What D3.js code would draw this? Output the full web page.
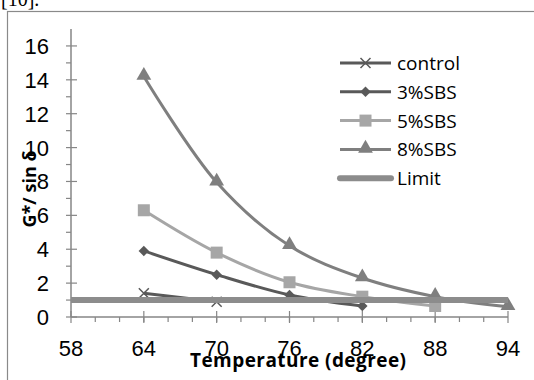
<!DOCTYPE html>
<html>
<head>
<meta charset="utf-8">
<script src="https://cdn.jsdelivr.net/npm/d3@7"></script>
<style>
  body { margin: 0; background: #fff; }
  svg { display: block; }
</style>
</head>
<body>
<div id="chart"></div>
<script>
// Data
const temps = [64, 70, 76, 82, 88, 94];
const control = [1.4, 0.9];
const sbs3 = [3.9, 2.5, 1.3, 0.65];
const sbs5 = [6.3, 3.8, 2.05, 1.2, 0.65];
const sbs8 = [14.2, 7.95, 4.2, 2.3, 1.2, 0.6];
const limitX = [58, 94];
const limitY = [1, 1];
const xTicks = [58, 64, 70, 76, 82, 88, 94];
const yTicks = [0, 2, 4, 6, 8, 10, 12, 14, 16];

const W = 534, H = 380;
const svg = d3.select("#chart").append("svg")
    .attr("width", W).attr("height", H);

// cropped caption line from the page above
svg.append("text")
    .attr("x", 1).attr("y", 6)
    .attr("font-family", "Liberation Serif")
    .attr("font-size", 20)
    .text("[10].");

// chart frame
svg.append("rect")
    .attr("x", 7.5).attr("y", 11.5)
    .attr("width", 600).attr("height", 400)
    .attr("fill", "none")
    .attr("stroke", "#8a8a8a")
    .attr("stroke-width", 1.2);

const x = d3.scaleLinear().domain([58, 94]).range([71, 508]);
const y = d3.scaleLinear().domain([0, 17]).range([317, 29]);

const axisCol = "#868686";

// y axis
const gy = svg.append("g");
gy.append("line")
    .attr("x1", x(58)).attr("x2", x(58))
    .attr("y1", y(0)).attr("y2", y(17))
    .attr("stroke", axisCol).attr("stroke-width", 1.5);
gy.selectAll(".minor").data(d3.range(1, 17, 2)).enter().append("line")
    .attr("x1", x(58) - 5).attr("x2", x(58))
    .attr("y1", d => y(d)).attr("y2", d => y(d))
    .attr("stroke", axisCol).attr("stroke-width", 1.2);
gy.selectAll(".major").data(yTicks).enter().append("line")
    .attr("x1", x(58) - 5).attr("x2", x(58) + 6)
    .attr("y1", d => y(d)).attr("y2", d => y(d))
    .attr("stroke", axisCol).attr("stroke-width", 1.2);
gy.selectAll("text").data(yTicks).enter().append("text")
    .attr("x", 49).attr("y", d => y(d) + 8)
    .attr("text-anchor", "end")
    .attr("font-family", "Liberation Sans, Arial")
    .attr("font-size", 22)
    .text(d => d);

// x axis
const gx = svg.append("g");
gx.append("line")
    .attr("x1", x(58)).attr("x2", x(94))
    .attr("y1", y(0)).attr("y2", y(0))
    .attr("stroke", axisCol).attr("stroke-width", 1.5);
gx.selectAll(".minor").data(d3.range(60, 94, 2)).enter().append("line")
    .attr("x1", d => x(d)).attr("x2", d => x(d))
    .attr("y1", y(0)).attr("y2", y(0) + 5)
    .attr("stroke", axisCol).attr("stroke-width", 1.2);
gx.selectAll(".major").data(xTicks).enter().append("line")
    .attr("x1", d => x(d)).attr("x2", d => x(d))
    .attr("y1", y(0) - 6).attr("y2", y(0) + 6)
    .attr("stroke", axisCol).attr("stroke-width", 1.2);
gx.selectAll("text").data(xTicks).enter().append("text")
    .attr("x", d => x(d)).attr("y", 356)
    .attr("text-anchor", "middle")
    .attr("font-family", "Liberation Sans, Arial")
    .attr("font-size", 22)
    .text(d => d);

// axis titles
svg.append("text")
    .attr("x", 298).attr("y", 367)
    .attr("text-anchor", "middle")
    .attr("font-family", "Open Sans, Lato")
    .attr("font-weight", "bold")
    .attr("font-size", 19)
    .attr("textLength", 216)
    .text("Temperature (degree)");
svg.append("text")
    .attr("transform", "translate(36,189) rotate(-90)")
    .attr("text-anchor", "middle")
    .attr("font-family", "Open Sans, Lato")
    .attr("font-weight", "bold")
    .attr("font-size", 18)
    .text("G*/ sin δ");

const series = [
  {name: "control", values: control, color: "#595959", marker: "x"},
  {name: "3%SBS", values: sbs3, color: "#595959", marker: "diamond"},
  {name: "5%SBS", values: sbs5, color: "#a6a6a6", marker: "square"},
  {name: "8%SBS", values: sbs8, color: "#7f7f7f", marker: "triangle"}
];

const line = d3.line()
    .x(d => x(d[0]))
    .y(d => y(d[1]))
    .curve(d3.curveCatmullRom.alpha(0.5));

function drawMarker(g, type, cx, cy, color) {
  if (type === "x") {
    g.append("path")
      .attr("d", `M${cx-5},${cy-5}L${cx+5},${cy+5}M${cx-5},${cy+5}L${cx+5},${cy-5}`)
      .attr("stroke", color).attr("stroke-width", 1.5).attr("fill", "none");
  } else if (type === "diamond") {
    g.append("path")
      .attr("d", d3.symbol().type(d3.symbolDiamond2).size(70)())
      .attr("transform", `translate(${cx},${cy})`)
      .attr("fill", color);
  } else if (type === "square") {
    g.append("rect")
      .attr("x", cx - 6).attr("y", cy - 6)
      .attr("width", 12).attr("height", 12)
      .attr("fill", color);
  } else if (type === "triangle") {
    g.append("path")
      .attr("d", d3.symbol().type(d3.symbolTriangle).size(95)())
      .attr("transform", `translate(${cx},${cy - 1})`)
      .attr("fill", color);
  }
}

series.forEach(s => {
  const pts = s.values.map((v, i) => [temps[i], v]);
  const g = svg.append("g");
  g.append("path")
      .datum(pts)
      .attr("fill", "none")
      .attr("stroke", s.color)
      .attr("stroke-width", 3)
      .attr("d", line);
  pts.forEach(p => drawMarker(g, s.marker, x(p[0]), y(p[1]), s.color));
});

// limit line
svg.append("line")
    .attr("x1", x(limitX[0])).attr("x2", x(limitX[1]))
    .attr("y1", y(limitY[0])).attr("y2", y(limitY[1]))
    .attr("stroke", "#8c8c8c")
    .attr("stroke-width", 6);

// legend
const legendItems = [...series, {name: "Limit", color: "#8c8c8c", marker: null}];
const lg = svg.append("g");
legendItems.forEach((s, i) => {
  const ly = 63 + i * 28.8;
  lg.append("line")
      .attr("x1", 340).attr("x2", 391)
      .attr("y1", ly).attr("y2", ly)
      .attr("stroke", s.color)
      .attr("stroke-width", s.marker ? 3 : 6)
      .attr("stroke-linecap", s.marker ? "butt" : "round");
  if (s.marker) drawMarker(lg, s.marker, 365.5, ly, s.color);
  lg.append("text")
      .attr("x", 397).attr("y", ly + 7)
      .attr("font-family", "Open Sans, Lato")
      .attr("font-size", 19)
      .text(s.name);
});
</script>
</body>
</html>
